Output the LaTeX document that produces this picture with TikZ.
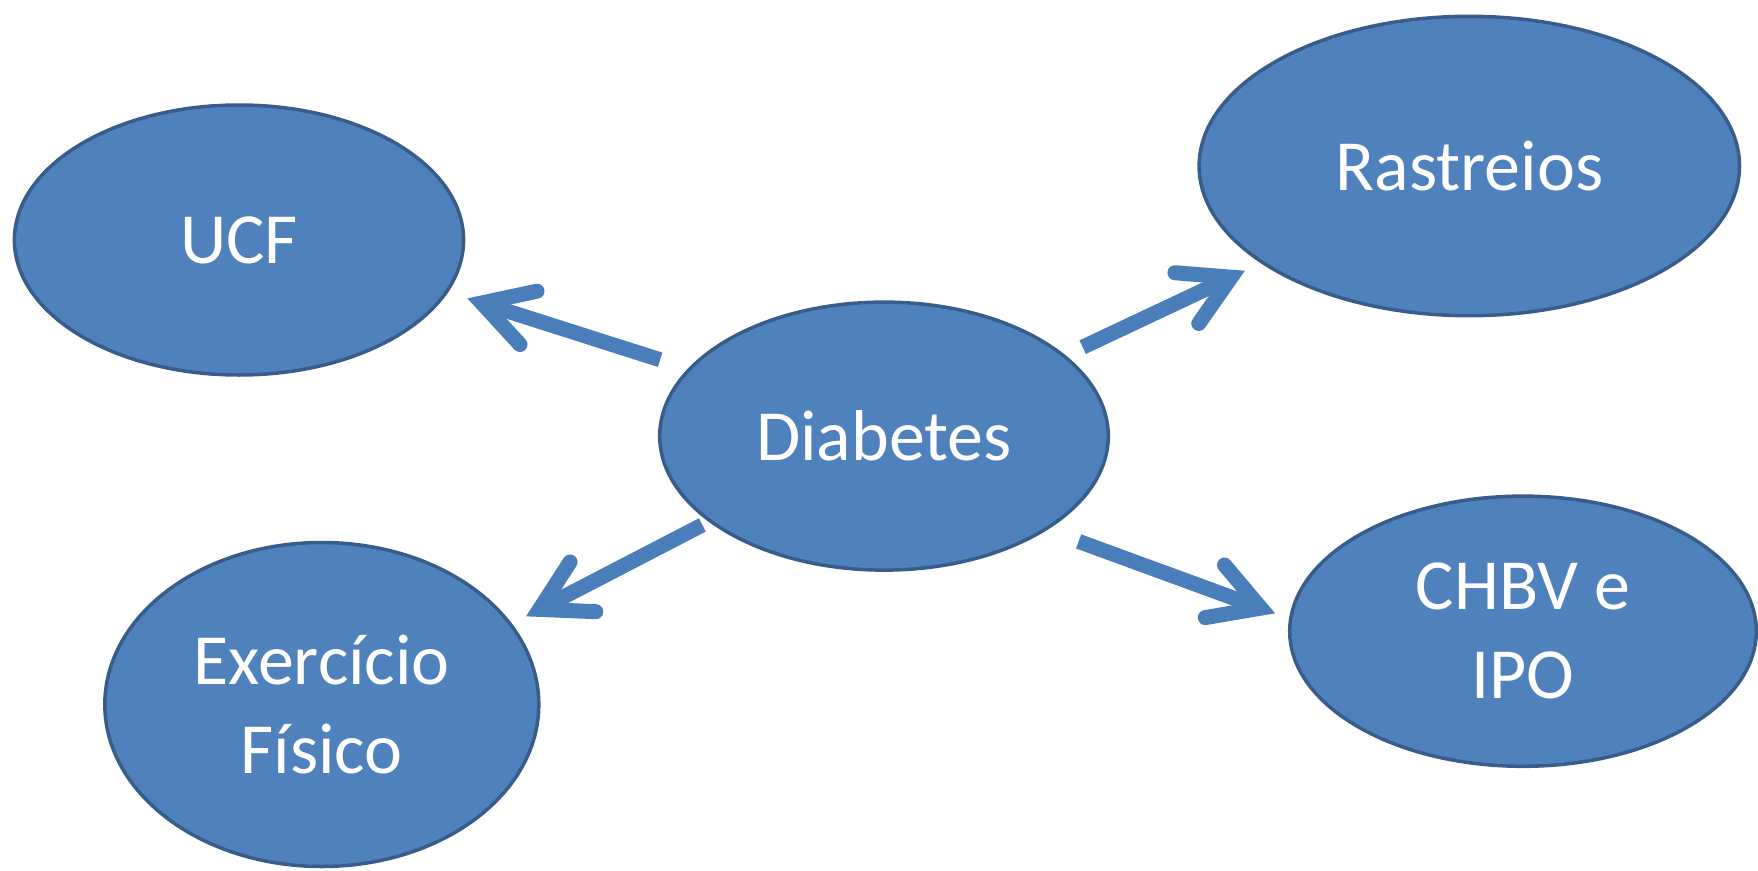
\documentclass[tikz,border=0pt]{standalone}
\usepackage{fontspec}
\setmainfont{Carlito}
\usetikzlibrary{shapes.geometric,arrows.meta}
\definecolor{fillblue}{HTML}{4F81BD}
\definecolor{edgeblue}{HTML}{385D8A}
\definecolor{arrowblue}{HTML}{4A7EBB}
\tikzset{
  bubble/.style={ellipse, draw=edgeblue, fill=fillblue, line width=3.5pt,
    inner sep=0pt, outer sep=0pt, text=white, align=center,
    font=\fontsize{72}{89}\selectfont},
  arr/.style={draw=arrowblue, line width=15pt,
    -{Straight Barb[length=49pt,width=56pt,line cap=round,line join=miter]}}
}
\begin{document}
\begin{tikzpicture}[x=1pt,y=-1pt]
\useasboundingbox (0,0) rectangle (1758,870);
\node[bubble, minimum width=448.6pt, minimum height=268pt] (diab) at (884,436.1) {Diabetes};
\node[bubble, minimum width=449.2pt, minimum height=270pt] (ucf) at (239,240) {UCF};
\node[bubble, minimum width=540.4pt, minimum height=299.4pt] (rast) at (1469.3,166) {Rastreios};
\node[bubble, minimum width=434pt, minimum height=324pt] (exer) at (321.8,704.5) {Exercício\\Físico};
\node[bubble, minimum width=466.6pt, minimum height=270.2pt] (chbv) at (1523,631.2) {CHBV e\\IPO};
\draw[arr, shorten <=31pt, shorten >=22pt] (diab.161.06) -- (ucf.-14.8);
\draw[arr, shorten <=20.8pt, shorten >=19.6pt] (diab.24.81) -- (rast.205.07);
\draw[arr, shorten <=8.9pt, shorten >=17.6pt] (diab.206.63) -- (exer.23.54);
\draw[arr, shorten <=35.5pt, shorten >=16.6pt] (diab.-30) -- (chbv.177.2);
\end{tikzpicture}
\end{document}
